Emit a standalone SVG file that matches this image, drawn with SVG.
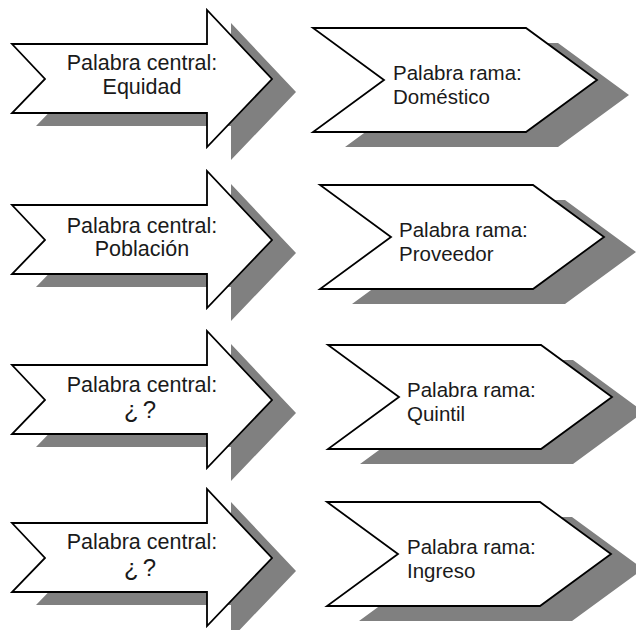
<svg xmlns="http://www.w3.org/2000/svg" width="636" height="630" viewBox="0 0 636 630">
<defs>
<style>
.shadow{fill:#808080;stroke:none}
.shape{fill:#ffffff;stroke:#000000;stroke-width:1.8;stroke-linejoin:miter}
.t{font-family:"Liberation Sans",Arial,sans-serif;font-size:21.5px;fill:#1a1a1a}
.r{font-size:20.5px}
.c{text-anchor:middle}
.q{font-size:24px;letter-spacing:4px}
</style>
<polygon id="arrowShape" points="12,-35 207,-35 207,-69 272,0 207,68 207,34 12,34 45,0"/>
<polygon id="chevShape" points="0,-52 213,-52 284,0 213,52 0,52 71,0"/>
</defs>
<rect width="636" height="630" fill="#ffffff"/>

<g id="central1" transform="translate(0,79)">
<use href="#arrowShape" class="shadow" transform="translate(24,13)"/>
<use href="#arrowShape" class="shape"/>
<text class="t c" x="142" y="-9">Palabra central:</text>
<text class="t c" x="142" y="15">Equidad</text>
</g>

<g id="central2" transform="translate(0,240)">
<use href="#arrowShape" class="shadow" transform="translate(24,13)"/>
<use href="#arrowShape" class="shape"/>
<text class="t c" x="142" y="-7">Palabra central:</text>
<text class="t c" x="142" y="16">Población</text>
</g>

<g id="central3" transform="translate(0,400)">
<use href="#arrowShape" class="shadow" transform="translate(24,13)"/>
<use href="#arrowShape" class="shape"/>
<text class="t c" x="142" y="-8">Palabra central:</text>
<text class="t c q" x="142" y="18">¿?</text>
</g>

<g id="central4" transform="translate(0,558)">
<use href="#arrowShape" class="shadow" transform="translate(24,13)"/>
<use href="#arrowShape" class="shape"/>
<text class="t c" x="142" y="-9">Palabra central:</text>
<text class="t c q" x="142" y="18">¿?</text>
</g>

<g id="rama1" transform="translate(313,80)">
<use href="#chevShape" class="shadow" transform="translate(32,15)"/>
<use href="#chevShape" class="shape"/>
<text class="t r" x="80" y="0">Palabra rama:</text>
<text class="t r" x="80" y="24">Doméstico</text>
</g>

<g id="rama2" transform="translate(320,237)">
<use href="#chevShape" class="shadow" transform="translate(32,15)"/>
<use href="#chevShape" class="shape"/>
<text class="t r" x="79" y="0">Palabra rama:</text>
<text class="t r" x="79" y="24">Proveedor</text>
</g>

<g id="rama3" transform="translate(328,397)">
<use href="#chevShape" class="shadow" transform="translate(32,15)"/>
<use href="#chevShape" class="shape"/>
<text class="t r" x="79" y="0">Palabra rama:</text>
<text class="t r" x="79" y="24">Quintil</text>
</g>

<g id="rama4" transform="translate(327,554)">
<use href="#chevShape" class="shadow" transform="translate(32,15)"/>
<use href="#chevShape" class="shape"/>
<text class="t r" x="80" y="0">Palabra rama:</text>
<text class="t r" x="80" y="24">Ingreso</text>
</g>

<g id="connectors"></g>
</svg>
